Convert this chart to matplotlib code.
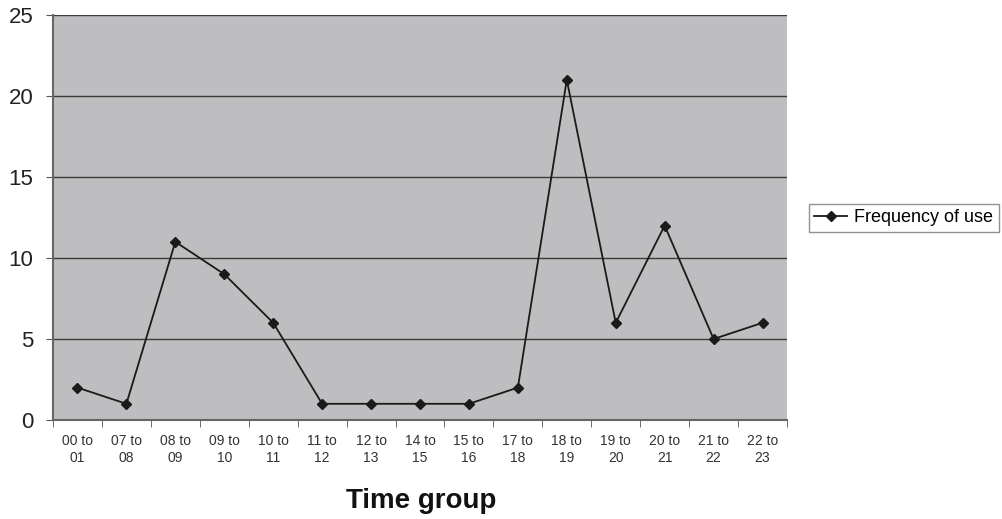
import matplotlib
matplotlib.use("Agg")
import matplotlib.pyplot as plt
import numpy as np

categories = ["00 to\n01", "07 to\n08", "08 to\n09", "09 to\n10", "10 to\n11", "11 to\n12",
              "12 to\n13", "14 to\n15", "15 to\n16", "17 to\n18", "18 to\n19", "19 to\n20",
              "20 to\n21", "21 to\n22", "22 to\n23"]
frequency = [2, 1, 11, 9, 6, 1, 1, 1, 1, 2, 21, 6, 12, 5, 6]
y_ticks = [0, 5, 10, 15, 20, 25]

plt.rcParams['font.family'] = ['Liberation Sans', 'DejaVu Sans']

fig = plt.figure(figsize=(10.03, 5.19), dpi=100)
ax = fig.add_axes([53/1003, 1 - 420/519, (787-53)/1003, (420-15)/519])
ax.set_facecolor('#bebec1')

x = np.arange(len(categories))
line, = ax.plot(x, frequency, color='#1a1a1a', lw=1.3, marker='D', markersize=5,
                label='Frequency of use')

ax.set_xlim(-0.5, len(categories) - 0.5)
ax.set_ylim(0, 25)
ax.set_yticks(y_ticks)
ax.set_yticklabels([str(v) for v in y_ticks], fontsize=16, color='#222222')
ax.yaxis.grid(True, color='#3a3a3a', lw=1.0)
ax.set_axisbelow(True)

ax.set_xticks(x)
ax.set_xticklabels(categories, fontsize=10, color='#333333', linespacing=1.3)
ax.set_xticks(np.arange(-0.5, len(categories), 1), minor=True)
ax.tick_params(axis='x', which='major', length=0, pad=10)
ax.tick_params(axis='x', which='minor', length=5, color='#555555', direction='out')
ax.tick_params(axis='y', length=5, color='#555555', direction='out', pad=9)

for s in ['top', 'right']:
    ax.spines[s].set_visible(False)
ax.spines['left'].set_color('#666666')
ax.spines['left'].set_linewidth(1.5)
ax.spines['bottom'].set_color('#666666')
ax.spines['bottom'].set_linewidth(1.5)

fig.text(421/1003, 1 - 508/519, 'Time group', fontsize=20, fontweight='bold',
         ha='center', va='baseline', color='#111111')

leg = fig.legend(handles=[line], loc='center left', bbox_to_anchor=(800/1003, 1 - 218/519),
                 fontsize=13, frameon=True, fancybox=False, handlelength=1.8,
                 borderpad=0.3, handletextpad=0.4)
leg.get_frame().set_edgecolor('#777777')
leg.get_frame().set_linewidth(1.0)

fig.savefig('out.png', dpi=100)
